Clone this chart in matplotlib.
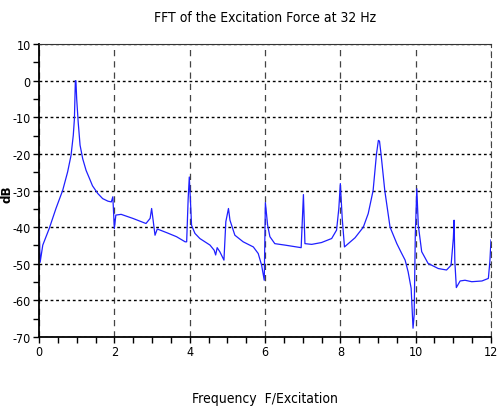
import matplotlib
matplotlib.use('Agg')
import matplotlib.pyplot as plt
from matplotlib import font_manager
from matplotlib.ticker import MultipleLocator

# the reference uses a narrow Arial-like face; take a condensed one if there is one
narrow = [f for f in font_manager.fontManager.ttflist
          if ('Narrow' in f.name or 'Condensed' in f.name or f.stretch in ('condensed', 'semi-condensed'))
          and f.style == 'normal']
narrow.sort(key=lambda f: (0 if 'Liberation' in f.name else 1, 0 if f.weight in (400, 'normal') else 1))
if narrow:
    plt.rcParams['font.family'] = [narrow[0].name, 'DejaVu Sans']
    plt.rcParams['font.stretch'] = narrow[0].stretch
    fs = 9
else:
    plt.rcParams['font.family'] = ['Liberation Sans', 'DejaVu Sans']
    fs = 8.5
plt.rcParams['axes.unicode_minus'] = False

# points (frequency / excitation, dB)
freq = [0.00, 0.03, 0.10, 0.27, 0.45, 0.63, 0.76, 0.85, 0.91, 0.94, 0.965, 0.98, 1.00, 1.04,
        1.09, 1.16, 1.25, 1.34, 1.42, 1.56, 1.69, 1.83, 1.92, 1.96, 2.00, 2.04, 2.18, 2.49,
        2.84, 2.95, 2.99, 3.08, 3.14, 3.39, 3.65, 3.88, 3.92, 3.96, 3.99, 4.03, 4.05, 4.14,
        4.27, 4.54, 4.65, 4.69, 4.73, 4.80, 4.91, 4.96, 5.03, 5.07, 5.20, 5.42, 5.69, 5.82,
        5.91, 5.98, 6.01, 6.07, 6.13, 6.26, 6.53, 6.96, 7.02, 7.06, 7.24, 7.50, 7.77, 7.90,
        7.96, 8.00, 8.05, 8.11, 8.21, 8.39, 8.61, 8.74, 8.87, 8.96, 9.01, 9.04, 9.08, 9.18,
        9.32, 9.50, 9.62, 9.72, 9.80, 9.88, 9.93, 9.96, 9.99, 10.03, 10.07, 10.16, 10.33,
        10.60, 10.82, 10.94, 11.00, 11.02, 11.04, 11.08, 11.18, 11.31, 11.49, 11.76,
        11.93, 11.97, 12.00]
db = [-39.0, -49.6, -44.9, -40.4, -34.9, -29.9, -24.9, -20.4, -14.9, -10.4, 0.0, 0.0, -4.9, -11.3,
      -17.6, -21.3, -24.5, -26.7, -28.7, -30.8, -32.2, -32.9, -33.1, -31.7, -40.4, -36.7, -36.5, -37.6,
      -39.0, -37.6, -34.9, -42.2, -40.5, -41.5, -42.6, -44.0, -44.0, -32.2, -26.3, -34.9, -39.5, -41.7,
      -43.1, -44.9, -46.3, -47.6, -45.6, -46.7, -49.0, -38.5, -34.9, -38.1, -42.2, -44.0, -45.4, -47.2,
      -50.4, -54.5, -33.3, -39.5, -42.6, -44.5, -44.9, -45.6, -31.1, -44.5, -44.7, -44.2, -43.1, -40.8,
      -34.9, -28.1, -37.6, -45.4, -44.5, -42.9, -40.0, -36.3, -30.0, -20.0, -16.3, -16.5, -20.0, -30.0,
      -40.0, -44.5, -47.0, -49.0, -52.2, -56.7, -67.6, -64.0, -42.2, -29.5, -39.5, -46.7, -49.9,
      -51.3, -51.7, -50.4, -43.1, -38.1, -49.4, -56.5, -54.7, -54.5, -54.9, -54.7,
      -54.0, -49.4, -43.5]

fig = plt.figure(figsize=(5.04, 4.14), dpi=100)
ax = fig.add_axes([0.0774, 0.1836, 0.8968, 0.7074])

ax.plot(freq, db, color='#1f1fff', lw=0.9)

ax.set_xlim(0, 12)
ax.set_ylim(-70, 10)
ax.xaxis.set_major_locator(MultipleLocator(2))
ax.xaxis.set_minor_locator(MultipleLocator(0.5))
ax.yaxis.set_major_locator(MultipleLocator(10))
ax.yaxis.set_minor_locator(MultipleLocator(5))
ax.tick_params(which='both', direction='out', length=4, width=1, labelsize=fs, pad=2)
ax.tick_params(top=False, right=False)

ax.yaxis.grid(True, linestyle=(0, (2, 2)), color='black', lw=1)
ax.xaxis.grid(True, linestyle=(0, (5, 4)), color='#444444', lw=0.9)

ax.spines['top'].set_linestyle((0, (2, 1)))
ax.spines['top'].set_color('#333333')
ax.spines['right'].set_linestyle((0, (5, 4)))
ax.spines['right'].set_color('#444444')
ax.spines['left'].set_linewidth(1.3)
ax.spines['bottom'].set_linewidth(1.3)

ax.set_title('FFT of the Excitation Force at 32 Hz', fontsize=fs + 1, pad=17)
ax.set_xlabel('Frequency  F/Excitation', fontsize=fs + 1)
ax.set_ylabel('dB', fontsize=fs + 0.5, fontweight='bold')
ax.xaxis.set_label_coords(0.5, -0.184)
ax.yaxis.set_label_coords(-0.057, 0.49)

fig.savefig('out.png', dpi=100)
